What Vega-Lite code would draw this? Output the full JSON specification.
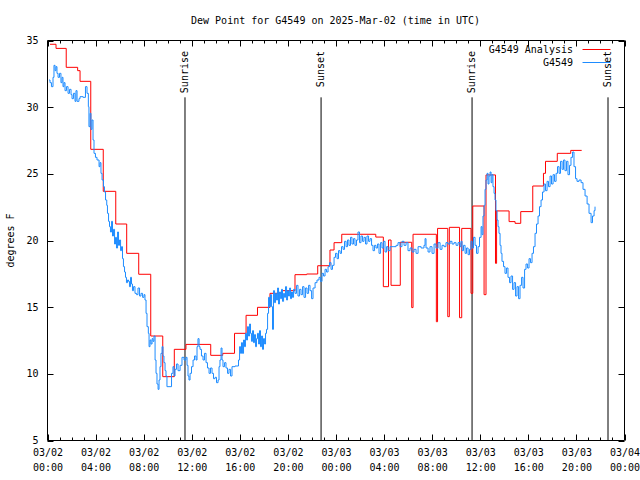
{
  "$schema": "https://vega.github.io/schema/vega-lite/v6.json",
  "width": 577,
  "height": 400,
  "autosize": {"type": "none"},
  "padding": {"left": 47, "top": 40, "right": 16, "bottom": 40},
  "background": "white",
  "title": {
    "text": "Dew Point for G4549 on 2025-Mar-02 (time in UTC)",
    "font": "DejaVu Sans Mono",
    "fontSize": 10,
    "fontWeight": "normal",
    "color": "black",
    "anchor": "middle",
    "offset": 10
  },
  "config": {
    "view": {"stroke": "black", "strokeWidth": 1},
    "axis": {"labelFont": "DejaVu Sans Mono", "labelFontSize": 10, "labelColor": "black", "titleFont": "DejaVu Sans Mono", "titleFontSize": 10, "titleFontWeight": "normal", "titleColor": "black", "grid": false, "domain": false, "ticks": true, "tickColor": "black", "tickWidth": 1, "tickOffset": 0.5},
    "legend": {"labelFont": "DejaVu Sans Mono", "labelFontSize": 10, "labelColor": "black"}
  },
  "datasets": {
    "analysis": [
      {"h": 0.25, "v": 34.68}, {"h": 0.75, "v": 34.37}, {"h": 1.6, "v": 32.95}, {"h": 2.55, "v": 32.7}, {"h": 2.75, "v": 31.9},
      {"h": 3.64, "v": 26.8}, {"h": 4.68, "v": 23.65}, {"h": 5.72, "v": 21.2}, {"h": 6.63, "v": 19.0}, {"h": 7.63, "v": 17.43},
      {"h": 8.63, "v": 12.8}, {"h": 9.63, "v": 9.75}, {"h": 10.59, "v": 11.8}, {"h": 11.56, "v": 12.17}, {"h": 13.62, "v": 11.35},
      {"h": 14.62, "v": 11.5}, {"h": 15.6, "v": 13.0}, {"h": 16.56, "v": 14.35}, {"h": 17.51, "v": 14.95}, {"h": 18.55, "v": 16.0},
      {"h": 19.55, "v": 16.2}, {"h": 20.63, "v": 17.4}, {"h": 21.6, "v": 17.45}, {"h": 22.52, "v": 18.07}, {"h": 23.54, "v": 19.25},
      {"h": 23.88, "v": 19.8}, {"h": 24.52, "v": 20.43}, {"h": 27.35, "v": 20.22}, {"h": 27.98, "v": 16.5}, {"h": 28.41, "v": 20.0},
      {"h": 28.62, "v": 16.6}, {"h": 29.39, "v": 19.83}, {"h": 30.34, "v": 14.93}, {"h": 30.45, "v": 20.43}, {"h": 32.39, "v": 13.87},
      {"h": 32.49, "v": 20.87}, {"h": 33.34, "v": 14.25}, {"h": 33.47, "v": 20.95}, {"h": 34.32, "v": 14.17}, {"h": 34.5, "v": 20.87},
      {"h": 35.27, "v": 16.0}, {"h": 35.42, "v": 22.55}, {"h": 36.36, "v": 15.9}, {"h": 36.52, "v": 24.88}, {"h": 37.31, "v": 18.25},
      {"h": 37.4, "v": 22.18}, {"h": 38.44, "v": 21.38}, {"h": 38.94, "v": 21.25}, {"h": 39.41, "v": 22.13}, {"h": 40.41, "v": 24.05},
      {"h": 41.3, "v": 25.0}, {"h": 41.47, "v": 25.9}, {"h": 42.45, "v": 26.5}, {"h": 43.57, "v": 26.72}, {"h": 44.48, "v": 26.72}
    ],
    "obs": [
      {"h": 0.17, "v": 32.0}, {"h": 0.25, "v": 31.8}, {"h": 0.37, "v": 31.5}, {"h": 0.5, "v": 32.2}, {"h": 0.58, "v": 33.1},
      {"h": 0.67, "v": 32.7}, {"h": 0.75, "v": 33.0}, {"h": 0.83, "v": 32.5}, {"h": 0.92, "v": 32.2}, {"h": 1.04, "v": 32.5},
      {"h": 1.16, "v": 31.8}, {"h": 1.25, "v": 32.2}, {"h": 1.33, "v": 31.5}, {"h": 1.41, "v": 31.8}, {"h": 1.5, "v": 31.2},
      {"h": 1.62, "v": 31.5}, {"h": 1.75, "v": 31.0}, {"h": 1.87, "v": 31.3}, {"h": 2.0, "v": 30.9}, {"h": 2.08, "v": 30.6},
      {"h": 2.2, "v": 31.0}, {"h": 2.33, "v": 30.4}, {"h": 2.41, "v": 31.2}, {"h": 2.5, "v": 30.4}, {"h": 2.66, "v": 30.6},
      {"h": 2.75, "v": 30.75}, {"h": 3.0, "v": 30.7}, {"h": 3.2, "v": 31.5}, {"h": 3.33, "v": 31.0}, {"h": 3.44, "v": 30.0},
      {"h": 3.49, "v": 28.5}, {"h": 3.58, "v": 29.5}, {"h": 3.66, "v": 28.3}, {"h": 3.74, "v": 29.0}, {"h": 3.83, "v": 27.5},
      {"h": 3.91, "v": 26.5}, {"h": 4.03, "v": 26.2}, {"h": 4.16, "v": 26.0}, {"h": 4.33, "v": 25.5}, {"h": 4.41, "v": 25.8},
      {"h": 4.49, "v": 25.0}, {"h": 4.58, "v": 24.5}, {"h": 4.7, "v": 24.0}, {"h": 4.78, "v": 23.6}, {"h": 4.87, "v": 23.0},
      {"h": 4.97, "v": 22.6}, {"h": 5.03, "v": 22.0}, {"h": 5.12, "v": 21.4}, {"h": 5.2, "v": 21.0}, {"h": 5.28, "v": 20.6},
      {"h": 5.37, "v": 21.4}, {"h": 5.45, "v": 20.3}, {"h": 5.53, "v": 20.8}, {"h": 5.62, "v": 19.7}, {"h": 5.7, "v": 20.2},
      {"h": 5.78, "v": 19.4}, {"h": 5.87, "v": 20.6}, {"h": 5.95, "v": 19.6}, {"h": 6.03, "v": 20.0}, {"h": 6.12, "v": 19.2},
      {"h": 6.2, "v": 19.5}, {"h": 6.28, "v": 18.6}, {"h": 6.36, "v": 18.0}, {"h": 6.45, "v": 17.6}, {"h": 6.53, "v": 17.2},
      {"h": 6.61, "v": 16.8}, {"h": 6.7, "v": 17.0}, {"h": 6.78, "v": 16.9}, {"h": 6.86, "v": 16.5}, {"h": 6.95, "v": 17.2},
      {"h": 7.03, "v": 16.7}, {"h": 7.11, "v": 16.2}, {"h": 7.2, "v": 16.5}, {"h": 7.32, "v": 16.0}, {"h": 7.45, "v": 15.9},
      {"h": 7.57, "v": 16.4}, {"h": 7.7, "v": 15.8}, {"h": 7.82, "v": 16.0}, {"h": 7.95, "v": 15.7}, {"h": 8.07, "v": 15.9},
      {"h": 8.15, "v": 15.5}, {"h": 8.24, "v": 14.5}, {"h": 8.32, "v": 13.5}, {"h": 8.43, "v": 13.0}, {"h": 8.49, "v": 12.0},
      {"h": 8.57, "v": 12.5}, {"h": 8.65, "v": 12.2}, {"h": 8.74, "v": 12.6}, {"h": 8.82, "v": 12.4}, {"h": 8.9, "v": 12.8},
      {"h": 8.99, "v": 11.0}, {"h": 9.07, "v": 10.0}, {"h": 9.15, "v": 9.2}, {"h": 9.24, "v": 8.8}, {"h": 9.32, "v": 9.5},
      {"h": 9.4, "v": 10.5}, {"h": 9.48, "v": 11.5}, {"h": 9.57, "v": 12.0}, {"h": 9.65, "v": 11.3}, {"h": 9.73, "v": 10.8},
      {"h": 9.82, "v": 10.2}, {"h": 9.9, "v": 9.8}, {"h": 9.98, "v": 9.0}, {"h": 10.36, "v": 10.0}, {"h": 10.48, "v": 10.5},
      {"h": 10.57, "v": 9.8}, {"h": 10.65, "v": 10.3}, {"h": 10.77, "v": 10.7}, {"h": 10.9, "v": 10.2}, {"h": 11.07, "v": 10.6},
      {"h": 11.23, "v": 11.2}, {"h": 11.4, "v": 11.0}, {"h": 11.56, "v": 11.2}, {"h": 11.65, "v": 10.6}, {"h": 11.73, "v": 9.8},
      {"h": 11.81, "v": 9.5}, {"h": 11.9, "v": 10.0}, {"h": 12.02, "v": 10.5}, {"h": 12.15, "v": 11.0}, {"h": 12.27, "v": 11.3},
      {"h": 12.4, "v": 11.0}, {"h": 12.48, "v": 12.0}, {"h": 12.56, "v": 12.6}, {"h": 12.65, "v": 12.0}, {"h": 12.73, "v": 11.8},
      {"h": 12.85, "v": 11.3}, {"h": 12.98, "v": 11.0}, {"h": 13.1, "v": 11.5}, {"h": 13.23, "v": 10.8}, {"h": 13.35, "v": 10.4},
      {"h": 13.48, "v": 10.0}, {"h": 13.6, "v": 10.4}, {"h": 13.73, "v": 10.0}, {"h": 13.85, "v": 9.6}, {"h": 13.98, "v": 9.7},
      {"h": 14.1, "v": 9.3}, {"h": 14.23, "v": 9.5}, {"h": 14.31, "v": 10.5}, {"h": 14.39, "v": 11.0}, {"h": 14.48, "v": 11.9},
      {"h": 14.56, "v": 11.0}, {"h": 14.64, "v": 10.5}, {"h": 14.77, "v": 10.8}, {"h": 14.89, "v": 10.4}, {"h": 15.02, "v": 10.0},
      {"h": 15.14, "v": 10.3}, {"h": 15.27, "v": 9.8}, {"h": 15.39, "v": 10.5}, {"h": 15.64, "v": 10.55}, {"h": 15.93, "v": 11.0},
      {"h": 16.02, "v": 12.0}, {"h": 16.1, "v": 11.5}, {"h": 16.18, "v": 12.3}, {"h": 16.26, "v": 11.5}, {"h": 16.35, "v": 12.5},
      {"h": 16.43, "v": 12.0}, {"h": 16.51, "v": 13.0}, {"h": 16.6, "v": 12.5}, {"h": 16.68, "v": 13.5}, {"h": 16.76, "v": 12.8},
      {"h": 16.85, "v": 13.7}, {"h": 16.93, "v": 13.0}, {"h": 17.01, "v": 12.4}, {"h": 17.1, "v": 13.2}, {"h": 17.18, "v": 12.3},
      {"h": 17.26, "v": 12.9}, {"h": 17.35, "v": 12.0}, {"h": 17.43, "v": 12.6}, {"h": 17.51, "v": 13.0}, {"h": 17.6, "v": 12.2},
      {"h": 17.68, "v": 13.2}, {"h": 17.76, "v": 12.0}, {"h": 17.85, "v": 12.8}, {"h": 17.93, "v": 11.8}, {"h": 18.01, "v": 12.6},
      {"h": 18.1, "v": 12.2}, {"h": 18.18, "v": 13.0}, {"h": 18.26, "v": 13.3}, {"h": 18.35, "v": 14.5}, {"h": 18.43, "v": 15.7},
      {"h": 18.51, "v": 15.0}, {"h": 18.59, "v": 15.9}, {"h": 18.68, "v": 15.0}, {"h": 18.76, "v": 13.3}, {"h": 18.84, "v": 16.2},
      {"h": 18.93, "v": 15.3}, {"h": 19.01, "v": 16.0}, {"h": 19.09, "v": 15.5}, {"h": 19.18, "v": 16.4}, {"h": 19.26, "v": 15.2},
      {"h": 19.34, "v": 16.1}, {"h": 19.43, "v": 15.6}, {"h": 19.51, "v": 16.3}, {"h": 19.59, "v": 15.4}, {"h": 19.68, "v": 16.0},
      {"h": 19.76, "v": 15.7}, {"h": 19.84, "v": 16.5}, {"h": 19.93, "v": 15.5}, {"h": 20.01, "v": 16.2}, {"h": 20.09, "v": 15.8},
      {"h": 20.18, "v": 16.4}, {"h": 20.26, "v": 15.6}, {"h": 20.34, "v": 16.1}, {"h": 20.42, "v": 15.7}, {"h": 20.51, "v": 16.3},
      {"h": 20.63, "v": 16.0}, {"h": 20.76, "v": 16.6}, {"h": 20.88, "v": 15.8}, {"h": 21.01, "v": 16.3}, {"h": 21.13, "v": 15.9},
      {"h": 21.26, "v": 16.5}, {"h": 21.38, "v": 15.7}, {"h": 21.51, "v": 16.4}, {"h": 21.63, "v": 16.0}, {"h": 21.76, "v": 16.6},
      {"h": 21.88, "v": 16.2}, {"h": 22.01, "v": 15.6}, {"h": 22.13, "v": 16.4}, {"h": 22.3, "v": 16.8}, {"h": 22.46, "v": 17.0},
      {"h": 22.63, "v": 17.2}, {"h": 22.75, "v": 16.9}, {"h": 22.88, "v": 17.5}, {"h": 23.0, "v": 17.3}, {"h": 23.13, "v": 17.8},
      {"h": 23.25, "v": 17.6}, {"h": 23.38, "v": 18.0}, {"h": 23.5, "v": 18.3}, {"h": 23.63, "v": 17.8}, {"h": 23.75, "v": 18.1},
      {"h": 23.88, "v": 18.7}, {"h": 24.0, "v": 19.0}, {"h": 24.13, "v": 18.6}, {"h": 24.25, "v": 19.2}, {"h": 24.38, "v": 19.0},
      {"h": 24.5, "v": 19.5}, {"h": 24.63, "v": 19.3}, {"h": 24.75, "v": 19.9}, {"h": 24.88, "v": 19.5}, {"h": 25.0, "v": 20.0},
      {"h": 25.12, "v": 19.6}, {"h": 25.25, "v": 20.2}, {"h": 25.37, "v": 19.7}, {"h": 25.5, "v": 20.1}, {"h": 25.62, "v": 19.6},
      {"h": 25.75, "v": 20.0}, {"h": 25.87, "v": 20.6}, {"h": 26.0, "v": 19.8}, {"h": 26.12, "v": 20.3}, {"h": 26.25, "v": 19.9},
      {"h": 26.37, "v": 20.2}, {"h": 26.5, "v": 19.7}, {"h": 26.62, "v": 20.3}, {"h": 26.75, "v": 19.9}, {"h": 26.87, "v": 20.1},
      {"h": 27.0, "v": 19.6}, {"h": 27.12, "v": 19.2}, {"h": 27.25, "v": 19.6}, {"h": 27.37, "v": 19.4}, {"h": 27.5, "v": 19.7},
      {"h": 27.62, "v": 19.0}, {"h": 27.75, "v": 19.8}, {"h": 27.87, "v": 19.4}, {"h": 28.0, "v": 19.9}, {"h": 28.12, "v": 19.1},
      {"h": 28.25, "v": 19.5}, {"h": 28.37, "v": 19.2}, {"h": 28.54, "v": 19.5}, {"h": 28.79, "v": 19.5}, {"h": 29.04, "v": 19.6},
      {"h": 29.2, "v": 19.8}, {"h": 29.37, "v": 19.5}, {"h": 29.53, "v": 19.9}, {"h": 29.7, "v": 19.6}, {"h": 29.87, "v": 19.8},
      {"h": 30.03, "v": 19.2}, {"h": 30.2, "v": 19.4}, {"h": 30.37, "v": 19.1}, {"h": 30.53, "v": 19.3}, {"h": 30.7, "v": 19.0},
      {"h": 30.87, "v": 19.5}, {"h": 31.12, "v": 19.4}, {"h": 31.36, "v": 19.6}, {"h": 31.45, "v": 20.1}, {"h": 31.53, "v": 19.4},
      {"h": 31.7, "v": 19.1}, {"h": 31.86, "v": 19.5}, {"h": 32.03, "v": 19.0}, {"h": 32.2, "v": 19.7}, {"h": 32.36, "v": 19.4},
      {"h": 32.53, "v": 19.8}, {"h": 32.7, "v": 19.3}, {"h": 32.86, "v": 19.6}, {"h": 33.03, "v": 19.5}, {"h": 33.19, "v": 19.8},
      {"h": 33.36, "v": 19.7}, {"h": 33.53, "v": 19.9}, {"h": 33.69, "v": 19.7}, {"h": 33.86, "v": 19.8}, {"h": 34.03, "v": 19.6},
      {"h": 34.19, "v": 19.8}, {"h": 34.36, "v": 19.5}, {"h": 34.44, "v": 19.9}, {"h": 34.53, "v": 19.2}, {"h": 34.65, "v": 19.6},
      {"h": 34.78, "v": 19.0}, {"h": 34.9, "v": 19.4}, {"h": 35.03, "v": 18.9}, {"h": 35.15, "v": 19.3}, {"h": 35.27, "v": 19.9},
      {"h": 35.36, "v": 19.4}, {"h": 35.48, "v": 20.2}, {"h": 35.61, "v": 19.6}, {"h": 35.73, "v": 19.0}, {"h": 35.86, "v": 19.5},
      {"h": 35.98, "v": 20.2}, {"h": 36.11, "v": 21.0}, {"h": 36.19, "v": 20.4}, {"h": 36.27, "v": 21.8}, {"h": 36.36, "v": 22.6},
      {"h": 36.44, "v": 23.8}, {"h": 36.52, "v": 24.5}, {"h": 36.61, "v": 25.0}, {"h": 36.69, "v": 24.2}, {"h": 36.77, "v": 24.8},
      {"h": 36.86, "v": 25.1}, {"h": 36.94, "v": 24.3}, {"h": 37.02, "v": 24.9}, {"h": 37.1, "v": 24.0}, {"h": 37.19, "v": 23.5},
      {"h": 37.27, "v": 23.0}, {"h": 37.35, "v": 22.2}, {"h": 37.44, "v": 21.5}, {"h": 37.52, "v": 21.0}, {"h": 37.6, "v": 20.5},
      {"h": 37.69, "v": 19.6}, {"h": 37.77, "v": 19.0}, {"h": 37.85, "v": 18.4}, {"h": 37.98, "v": 18.0}, {"h": 38.1, "v": 17.5},
      {"h": 38.23, "v": 17.9}, {"h": 38.35, "v": 17.2}, {"h": 38.48, "v": 16.8}, {"h": 38.6, "v": 17.3}, {"h": 38.73, "v": 16.3},
      {"h": 38.85, "v": 16.8}, {"h": 38.98, "v": 15.8}, {"h": 39.1, "v": 16.5}, {"h": 39.23, "v": 15.6}, {"h": 39.35, "v": 16.6},
      {"h": 39.48, "v": 17.2}, {"h": 39.6, "v": 16.4}, {"h": 39.73, "v": 17.8}, {"h": 39.85, "v": 18.2}, {"h": 39.98, "v": 17.9},
      {"h": 40.1, "v": 18.6}, {"h": 40.22, "v": 18.3}, {"h": 40.35, "v": 19.0}, {"h": 40.47, "v": 19.5}, {"h": 40.6, "v": 20.5},
      {"h": 40.72, "v": 21.2}, {"h": 40.85, "v": 21.8}, {"h": 40.97, "v": 22.5}, {"h": 41.1, "v": 23.0}, {"h": 41.22, "v": 23.6},
      {"h": 41.35, "v": 24.2}, {"h": 41.47, "v": 23.7}, {"h": 41.6, "v": 24.4}, {"h": 41.72, "v": 24.0}, {"h": 41.85, "v": 24.8},
      {"h": 41.97, "v": 24.2}, {"h": 42.1, "v": 24.9}, {"h": 42.22, "v": 24.4}, {"h": 42.35, "v": 25.0}, {"h": 42.47, "v": 25.5},
      {"h": 42.6, "v": 25.0}, {"h": 42.72, "v": 25.9}, {"h": 42.85, "v": 25.3}, {"h": 42.97, "v": 26.0}, {"h": 43.09, "v": 25.2},
      {"h": 43.22, "v": 25.9}, {"h": 43.34, "v": 24.9}, {"h": 43.47, "v": 25.6}, {"h": 43.59, "v": 26.2}, {"h": 43.72, "v": 26.6},
      {"h": 43.84, "v": 25.5}, {"h": 43.97, "v": 24.6}, {"h": 44.09, "v": 24.4}, {"h": 44.26, "v": 24.5}, {"h": 44.43, "v": 24.3},
      {"h": 44.59, "v": 23.8}, {"h": 44.76, "v": 23.3}, {"h": 44.93, "v": 22.7}, {"h": 45.09, "v": 22.0}, {"h": 45.26, "v": 21.3},
      {"h": 45.38, "v": 21.8}, {"h": 45.51, "v": 22.2}, {"h": 45.59, "v": 22.5}
    ],
    "events": [
      {"h": 11.48, "label": "Sunrise"},
      {"h": 22.8, "label": "Sunset"},
      {"h": 35.36, "label": "Sunrise"},
      {"h": 46.67, "label": "Sunset"}
    ]
  },
  "layer": [
    {
      "data": {"name": "events"},
      "mark": {"type": "rule", "color": "black", "strokeWidth": 1},
      "encoding": {
        "x": {
          "field": "h", "type": "quantitative", "title": null,
          "scale": {"domain": [0, 48], "nice": false, "zero": false},
          "axis": {"orient": "bottom", "values": [1,2,3,5,6,7,9,10,11,13,14,15,17,18,19,21,22,23,25,26,27,29,30,31,33,34,35,37,38,39,41,42,43,45,46,47], "labels": false, "tickSize": 3, "offset": -3}
        },
        "y": {"datum": 30.7, "type": "quantitative", "scale": {"domain": [5, 35], "nice": false, "zero": false}, "axis": null},
        "y2": {"datum": 5}
      }
    },
    {
      "data": {"name": "events"},
      "mark": {"type": "text", "angle": 270, "align": "right", "baseline": "middle", "dx": -11, "font": "DejaVu Sans Mono", "fontSize": 10, "color": "black"},
      "encoding": {
        "x": {
          "field": "h", "type": "quantitative", "title": null,
          "axis": {"orient": "top", "values": [1,2,3,5,6,7,9,10,11,13,14,15,17,18,19,21,22,23,25,26,27,29,30,31,33,34,35,37,38,39,41,42,43,45,46,47], "labels": false, "tickSize": 3, "offset": -3}
        },
        "y": {"datum": 35, "type": "quantitative", "axis": null},
        "text": {"field": "label"}
      }
    },
    {
      "data": {"name": "analysis"},
      "mark": {"type": "line", "interpolate": "step-after", "strokeWidth": 1},
      "encoding": {
        "x": {
          "field": "h", "type": "quantitative", "title": null,
          "axis": {
            "orient": "bottom",
            "values": [0, 4, 8, 12, 16, 20, 24, 28, 32, 36, 40, 44, 48],
            "labelExpr": "[(datum.value < 24 ? '03/02' : (datum.value < 48 ? '03/03' : '03/04')), ((datum.value % 24) < 10 ? '0' : '') + (datum.value % 24) + ':00']",
            "tickSize": 6,
            "offset": -6,
            "labelPadding": 7,
            "labelLineHeight": 15,
            "labelFlush": false,
            "labelOverlap": false,
            "labelAngle": 0,
            "labelBaseline": "top"
          }
        },
        "y": {
          "field": "v", "type": "quantitative", "title": "degrees F",
          "axis": {"orient": "left", "values": [5, 10, 15, 20, 25, 30, 35], "tickSize": 6, "offset": -6, "labelPadding": 9, "titlePadding": 10}
        },
        "color": {
          "datum": "G4549 Analysis",
          "scale": {"domain": ["G4549 Analysis", "G4549"], "range": ["#ff0000", "#1e8cff"]},
          "legend": {
            "title": null,
            "orient": "none",
            "legendX": 543,
            "legendY": 3,
            "symbolType": "M-2.33,0H2.33",
            "symbolSize": 144,
            "symbolStrokeWidth": 1,
            "symbolFillColor": "transparent",
            "labelAlign": "right",
            "labelOffset": -30,
            "rowPadding": 1,
            "padding": 0
          }
        }
      }
    },
    {
      "data": {"name": "obs"},
      "mark": {"type": "line", "interpolate": "step-after", "strokeWidth": 1},
      "encoding": {
        "x": {
          "field": "h", "type": "quantitative", "title": null,
          "axis": {"orient": "top", "values": [0, 4, 8, 12, 16, 20, 24, 28, 32, 36, 40, 44, 48], "labels": false, "tickSize": 6, "offset": -6}
        },
        "y": {
          "field": "v", "type": "quantitative", "title": null,
          "axis": {"orient": "right", "values": [5, 10, 15, 20, 25, 30, 35], "tickSize": 6, "offset": -6, "labels": false}
        },
        "color": {"datum": "G4549"}
      }
    }
  ],
  "resolve": {"axis": {"x": "independent", "y": "independent"}}
}
